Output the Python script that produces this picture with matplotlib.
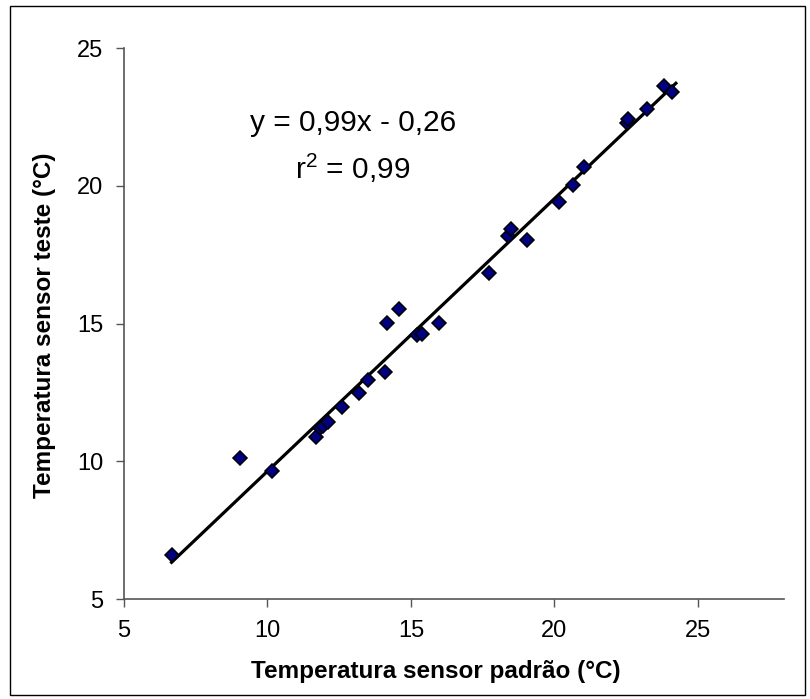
import numpy as np
import matplotlib
matplotlib.use("Agg")
import matplotlib.pyplot as plt
from matplotlib.patches import Rectangle

plt.rcParams['font.family'] = ['Liberation Sans', 'DejaVu Sans']

# readings: standard sensor (x) vs test sensor (y), in degrees C
padrao = [6.66, 9.04, 10.15, 11.68, 11.83, 11.95, 12.12, 12.60, 13.20, 13.50,
          14.09, 14.17, 14.59, 15.21, 15.37, 15.99, 17.72, 18.37, 18.48, 19.03,
          20.16, 20.66, 21.03, 22.52, 22.57, 23.21, 23.82, 24.08]
teste = [6.60, 10.11, 9.66, 10.89, 11.20, 11.30, 11.44, 11.98, 12.47, 12.95,
         13.25, 15.03, 15.53, 14.58, 14.62, 15.03, 16.84, 18.18, 18.42, 18.03,
         19.42, 20.05, 20.69, 22.30, 22.42, 22.79, 23.63, 23.41]

# trendline as printed on the chart
slope = 0.99
intercept = -0.26
eq_text = "y = 0,99x - 0,26"
r2_text = r"$\mathregular{r^2}$ = 0,99"

x_ticks = [5, 10, 15, 20, 25]
y_ticks = [5, 10, 15, 20, 25]

fig = plt.figure(figsize=(8.10, 6.99), dpi=100)
ax = fig.add_axes([0.153, 0.143, 0.815, 0.788])

# outer chart border
fig.patches.append(Rectangle((0.012, 0.006), 0.982, 0.985, transform=fig.transFigure,
                             fill=False, edgecolor='black', linewidth=1.0))

ax.plot(padrao, teste, linestyle='none', marker='D', markersize=7,
        markerfacecolor='#000080', markeredgecolor='black', markeredgewidth=1.1, zorder=3)

xl = np.array([min(padrao), max(padrao) + 0.15])
ax.plot(xl, slope * xl + intercept, color='black', linewidth=2.3, zorder=2)

ax.text(0.347, 0.864, eq_text, transform=ax.transAxes, ha='center', va='center', fontsize=21.5)
ax.text(0.347, 0.781, r2_text, transform=ax.transAxes, ha='center', va='center', fontsize=21.5)

ax.set_xlim(5, 28)
ax.set_ylim(5, 25)
ax.set_xticks(x_ticks)
ax.set_yticks(y_ticks)
ax.tick_params(direction='out', length=6, width=1, colors='#555555', labelcolor='black',
               labelsize=17, pad=9)
for s in ['top', 'right']:
    ax.spines[s].set_visible(False)
for s in ['left', 'bottom']:
    ax.spines[s].set_color('#555555')
    ax.spines[s].set_linewidth(1.2)

ax.set_xlabel("Temperatura sensor padrão (°C)", fontsize=17.5, fontweight='bold')
ax.set_ylabel("Temperatura sensor teste (°C)", fontsize=17.5, fontweight='bold')
ax.xaxis.set_label_coords(0.473, -0.132)
ax.yaxis.set_label_coords(-0.12, 0.497)
ax.xaxis.label.set_va('center')
ax.yaxis.label.set_va('center')

fig.savefig("out.png", dpi=100)
